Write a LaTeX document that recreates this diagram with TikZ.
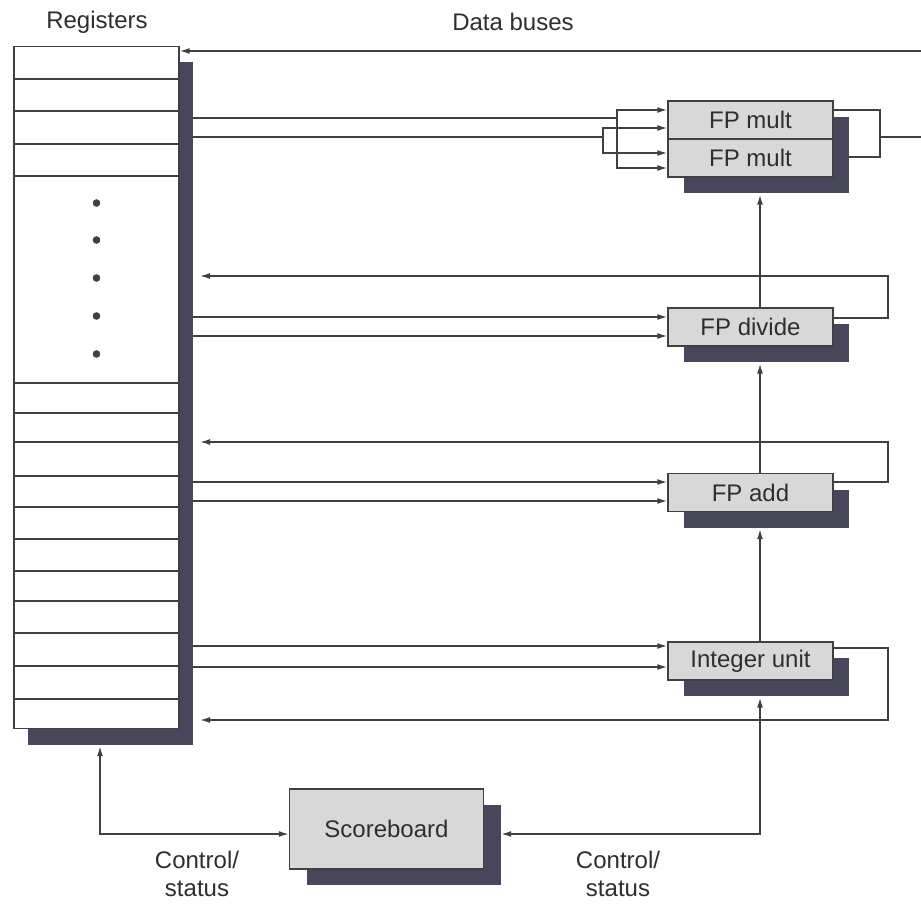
\documentclass[tikz,border=0pt]{standalone}
\usepackage{fontspec}
\setmainfont{Liberation Sans}
\usetikzlibrary{arrows.meta,calc,shadows}
\definecolor{linegray}{HTML}{404040}
\definecolor{shadegray}{HTML}{48465A}
\definecolor{boxgray}{HTML}{D8D8D8}
\definecolor{textgray}{HTML}{2E2E2E}

\begin{document}
\begin{tikzpicture}[
  x=1pt, y=-1pt,
  font=\fontsize{24}{28}\selectfont,
  every node/.style={text=textgray},
  unit/.style={draw=linegray, line width=1.4pt, fill=boxgray, minimum width=165pt, minimum height=38pt, inner sep=0pt,
    drop shadow={shadow xshift=16pt, shadow yshift=-16pt, fill=shadegray, opacity=1}},
  sboard/.style={draw=linegray, line width=1.4pt, fill=boxgray, minimum width=194pt, minimum height=80pt, inner sep=0pt,
    drop shadow={shadow xshift=17pt, shadow yshift=-16pt, fill=shadegray, opacity=1}},
  regfile/.style={draw=linegray, line width=1.4pt, fill=white, minimum width=165pt, minimum height=682pt, inner sep=0pt,
    drop shadow={shadow xshift=14pt, shadow yshift=-16pt, fill=shadegray, opacity=1}},
  bus/.style={draw=linegray, line width=1.5pt},
  arrow/.style={bus, -{Latex[length=10pt,width=6pt]}},
  biarrow/.style={bus, {Latex[length=10pt,width=6pt]}-{Latex[length=10pt,width=6pt]}},
  caption/.style={align=center}
]
\useasboundingbox (0,0) rectangle (921,904);

\node[regfile] (regs) at (96.5,387.5) {};
\node[unit] (multA) at (750.5,120) {FP mult};
\node[unit] (multB) at (750.5,158) {FP mult};
\node[unit] (fpdiv) at (750.5,327) {FP divide};
\node[unit] (fpadd) at (750.5,492.5) {FP add};
\node[unit] (intu) at (750.5,661) {Integer unit};
\node[sboard] (score) at (386.5,829) {Scoreboard};

\node (reglbl) at (97,22) {Registers};
\node (buslbl) at (513,22) {Data buses};
\node[caption] (ctlL) at (197,874) {Control/\\status};
\node[caption] (ctlR) at (618,874) {Control/\\status};

\foreach \y in {79,111,144,176,383,413,442,476,507,539,571,601,633,666,699}
  \draw[bus] (regs.west |- 0,\y) -- (regs.east |- 0,\y);
\foreach \y in {203,240,278,316,354}
  \fill[linegray] (regs.center |- 0,\y) circle (3.8);

\coordinate (rs) at (193,0);
\coordinate (rin) at (200,0);
\coordinate (vx) at (760,0);
\coordinate (topbus) at (921,51);
\coordinate (msplit1) at (617,118);
\coordinate (msplit2) at (603,137);
\coordinate (mout) at (880,137);
\coordinate (mexit) at (921,137);
\coordinate (divret) at (888,276);
\coordinate (addret) at (888,442);
\coordinate (intret) at (888,720);
\coordinate (sbR) at (760,834);
\coordinate (sbL) at (100,834);

\draw[arrow] (topbus) -- (regs.east |- topbus);

\draw[bus] (rs |- msplit1) -- (msplit1);
\draw[arrow] (msplit1) |- (multA.west |- 0,110);
\draw[arrow] (msplit1) |- (multB.west |- 0,168);
\draw[bus] (rs |- msplit2) -- (msplit2);
\draw[arrow] (msplit2) |- (multA.west |- 0,128);
\draw[arrow] (msplit2) |- (multB.west |- 0,153);
\draw[bus] (multA.east |- 0,110) -| (mout |- 0,157) -- (849,157);
\draw[bus] (mout) -- (mexit);

\draw[arrow] (rs |- 0,317) -- (fpdiv.west |- 0,317);
\draw[arrow] (rs |- 0,336) -- (fpdiv.west |- 0,336);
\draw[arrow] (fpdiv.east |- 0,318) -| (divret) -- (rin |- divret);

\draw[arrow] (rs |- 0,482) -- (fpadd.west |- 0,482);
\draw[arrow] (rs |- 0,501) -- (fpadd.west |- 0,501);
\draw[arrow] (fpadd.east |- 0,482) -| (addret) -- (rin |- addret);

\draw[arrow] (rs |- 0,646) -- (intu.west |- 0,646);
\draw[arrow] (rs |- 0,667) -- (intu.west |- 0,667);
\draw[arrow] (intu.east |- 0,648) -| (intret) -- (rin |- intret);

\draw[arrow] (fpdiv.north -| vx) -- ($(multB.south -| vx)+(0,17)$);
\draw[arrow] (fpadd.north -| vx) -- ($(fpdiv.south -| vx)+(0,17)$);
\draw[arrow] (intu.north -| vx) -- ($(fpadd.south -| vx)+(0,17)$);

\draw[biarrow] ($(intu.south -| vx)+(0,17)$) -- (sbR) -- ($(score.east |- sbR)+(17,0)$);
\draw[biarrow] ($(regs.south -| sbL)+(0,17)$) -- (sbL) -- (score.west |- sbL);
\end{tikzpicture}
\end{document}
